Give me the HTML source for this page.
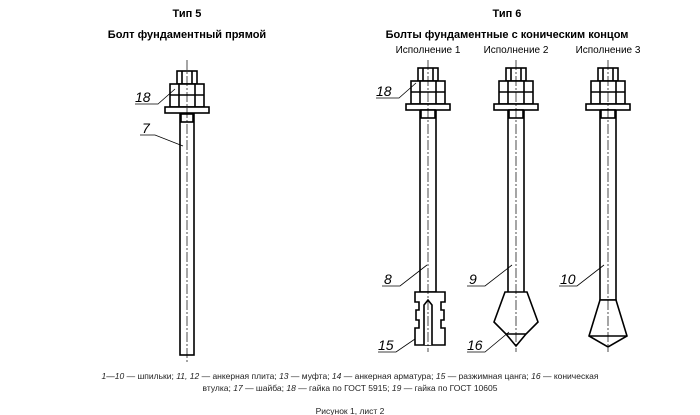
<!DOCTYPE html><html><head><style>body{margin:0;background:#fff}svg{display:block}text{font-family:"Liberation Sans",sans-serif}</style></head><body>
<svg width="700" height="415" viewBox="0 0 700 415" xmlns="http://www.w3.org/2000/svg">
<defs>
<g id="head" fill="#fff" stroke="#000" stroke-width="1.6">
<rect x="-10" y="0" width="20" height="13"/><line x1="-5" y1="0" x2="-5" y2="13"/><line x1="5" y1="0" x2="5" y2="13"/>
<rect x="-17" y="13" width="34" height="23"/><line x1="-17" y1="24" x2="17" y2="24"/><line x1="-8" y1="13" x2="-8" y2="36"/><line x1="8" y1="13" x2="8" y2="36"/>
<rect x="-22" y="36" width="44" height="6"/>
</g>
</defs>
<g font-weight="bold" font-size="11" text-anchor="middle"><text x="187" y="17">Тип 5</text><text x="187" y="38">Болт фундаментный прямой</text><text x="507" y="17">Тип 6</text><text x="507" y="38">Болты фундаментные с коническим концом</text></g>
<g font-size="10" text-anchor="middle"><text x="428" y="53">Исполнение 1</text><text x="516" y="53">Исполнение 2</text><text x="608" y="53">Исполнение 3</text></g>
<g stroke="#000" stroke-width="1.6" fill="#fff">
<rect x="180" y="114" width="14" height="241"/>
<use href="#head" x="187" y="71"/>
<rect x="181" y="114" width="12" height="8"/>
<rect x="420" y="110" width="16" height="182"/>
<use href="#head" x="428" y="68"/>
<rect x="421" y="110" width="14" height="8"/>
<path d="M415 292h30v10h-4v8h3v10h-3v8h4v17h-30v-17h4v-8h-3v-10h3v-8h-4z"/>
<path d="M424 345v-40l4-5 4 5v40"/>
<rect x="508" y="110" width="16" height="184"/>
<use href="#head" x="516" y="68"/>
<rect x="509" y="110" width="14" height="8"/>
<path d="M505 292h22l11 30-12 12-10 12-10-12-12-12z"/>
<line x1="506" y1="334" x2="526" y2="334"/>
<rect x="600" y="110" width="16" height="190"/>
<use href="#head" x="608" y="68"/>
<rect x="601" y="110" width="14" height="8"/>
<path d="M600 300h16l11 36-19 11-19-11z"/>
<line x1="589" y1="336" x2="627" y2="336"/>
</g>
<g stroke="#000" stroke-width="0.7" stroke-dasharray="10 2 2 2"><line x1="187" y1="60" x2="187" y2="362"/><line x1="428" y1="60" x2="428" y2="352"/><line x1="516" y1="60" x2="516" y2="352"/><line x1="608" y1="60" x2="608" y2="352"/></g>
<g stroke="#000" stroke-width="0.8" fill="none">
<path d="M135 104h23l17-15"/><path d="M140 135h15l28 11"/>
<path d="M376 98h23l17-15"/><path d="M382 286h18l27-21"/><path d="M467 286h18l27-21"/><path d="M559 286h18l27-21"/>
<path d="M378 352h18l19-13"/><path d="M467 352h18l24-20"/>
</g>
<g font-size="14" font-style="italic"><text x="135" y="102">18</text><text x="142" y="133">7</text><text x="376" y="96">18</text><text x="384" y="284">8</text><text x="469" y="284">9</text><text x="560" y="284">10</text><text x="378" y="350">15</text><text x="467" y="350">16</text></g>
<g font-size="8.5" fill="#222" text-anchor="middle"><text x="350" y="379"><tspan font-style="italic">1—10</tspan> — шпильки; <tspan font-style="italic">11, 12</tspan> — анкерная плита; <tspan font-style="italic">13</tspan> — муфта; <tspan font-style="italic">14</tspan> — анкерная арматура; <tspan font-style="italic">15</tspan> — разжимная цанга; <tspan font-style="italic">16</tspan> — коническая</text><text x="350" y="391">втулка; <tspan font-style="italic">17</tspan> — шайба; <tspan font-style="italic">18</tspan> — гайка по ГОСТ 5915; <tspan font-style="italic">19</tspan> — гайка по ГОСТ 10605</text><text x="350" y="414">Рисунок 1, лист 2</text></g>
</svg></body></html>
